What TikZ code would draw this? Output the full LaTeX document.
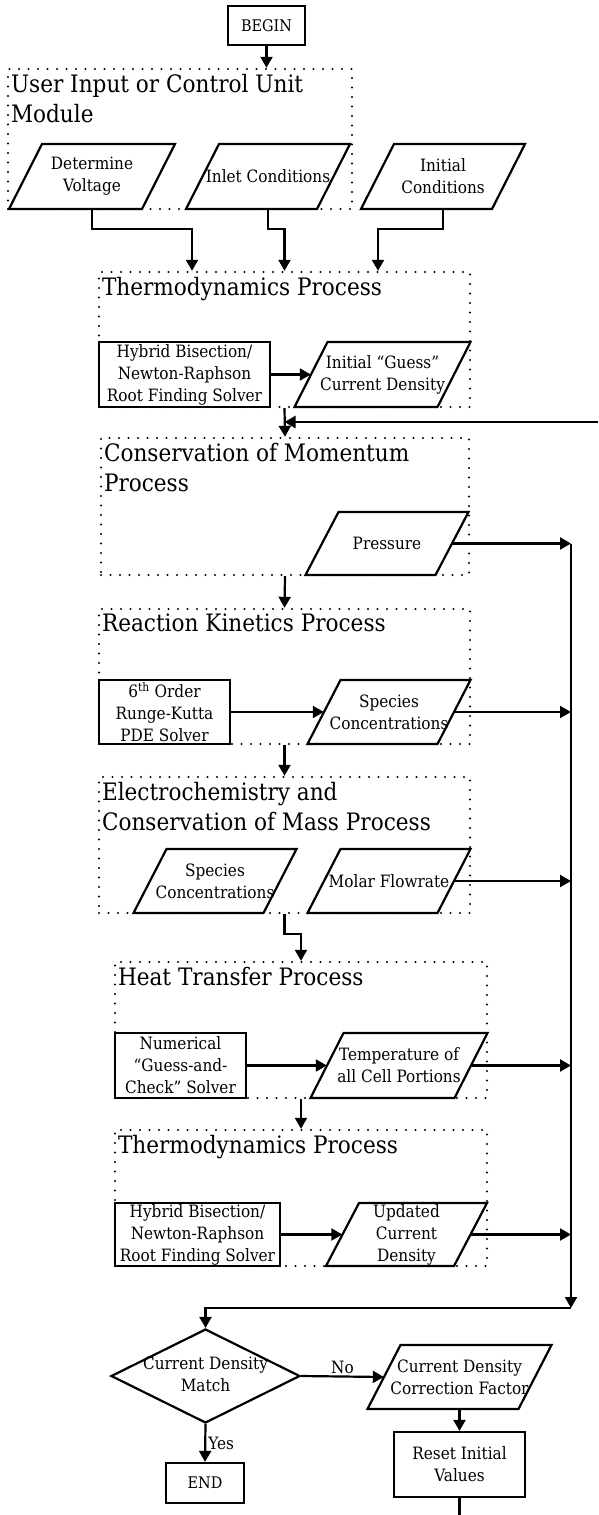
\documentclass[tikz,border=0pt]{standalone}
\usepackage{fontspec}
\setmainfont{DejaVu Serif}[FakeStretch=0.9]
\usetikzlibrary{arrows.meta,shapes.geometric,calc}
\newcommand{\mybodyfont}{\fontsize{17}{22}\selectfont}
\newcommand{\mytitlefont}{\fontsize{24}{30}\selectfont}
\newcommand{\myendfont}{\fontsize{16}{20}\selectfont}
% parallelogram: name, cx, cy, width at mid-height, height, text
\newcommand{\para}[6]{%
  \draw[shapeline, fill=white] (#2-#4/2-16.5,#3+#5/2) -- (#2+#4/2-16.5,#3+#5/2) -- (#2+#4/2+16.5,#3-#5/2) -- (#2-#4/2+16.5,#3-#5/2) -- cycle;
  \node[ptext, minimum width=#4, minimum height=#5] (#1) at (#2,#3) {#6};
}
\begin{document}
\begin{tikzpicture}[x=1pt,y=-1pt,
  shapeline/.style={line width=2.2pt, line join=miter},
  ptext/.style={inner sep=0, align=center, font=\mybodyfont},
  rbox/.style={draw, line width=2.2pt, fill=white, align=center, inner sep=0, font=\mybodyfont},
  dmd/.style={diamond, draw, line width=2.2pt, fill=white, inner sep=0, font=\mybodyfont},
  grp/.style={draw, line width=2.4pt, line cap=round, dash pattern=on 0pt off 9.5pt, inner sep=0},
  ttl/.style={anchor=north west, inner sep=0, align=left, font=\mytitlefont},
  line/.style={line width=2.2pt},
  arr/.style={line width=2.2pt, -{Triangle[length=11pt,width=12pt]}},
  lbl/.style={inner sep=2pt, font=\mybodyfont}
]
\fill[white] (0,0) rectangle (598,1515);
\useasboundingbox (0,0) rectangle (598,1515);

% group frames
\node[grp, minimum width=344, minimum height=140] (user) at (180,139) {};
\node[grp, minimum width=371, minimum height=135] (thermoA) at (284.5,339.5) {};
\node[grp, minimum width=368, minimum height=137] (mom) at (285,506.5) {};
\node[grp, minimum width=371, minimum height=135] (react) at (284.5,676.5) {};
\node[grp, minimum width=371, minimum height=136] (electro) at (284.5,845) {};
\node[grp, minimum width=372, minimum height=136] (heat) at (301,1030) {};
\node[grp, minimum width=372, minimum height=136] (thermoB) at (301,1198) {};

% titles
\node[ttl] (tuser) at ([shift={(4,6)}]user.north west) {User Input or Control Unit\\Module};
\node[ttl] (tthermoA) at ([shift={(4,6)}]thermoA.north west) {Thermodynamics Process};
\node[ttl] (tmom) at ([shift={(4,6)}]mom.north west) {Conservation of Momentum\\Process};
\node[ttl] (treact) at ([shift={(4,6)}]react.north west) {Reaction Kinetics Process};
\node[ttl] (telectro) at ([shift={(4,6)}]electro.north west) {Electrochemistry and\\Conservation of Mass Process};
\node[ttl] (theat) at ([shift={(4,6)}]heat.north west) {Heat Transfer Process};
\node[ttl] (tthermoB) at ([shift={(4,6)}]thermoB.north west) {Thermodynamics Process};

% begin
\node[rbox, minimum width=77, minimum height=39, font=\myendfont] (begin) at (266.5,25.5) {BEGIN};
\draw[arr] (begin.south) -- (begin.south |- user.north);

% user inputs
\para{dv}{92}{176.5}{133}{65}{Determine\\Voltage}
\para{inlet}{268}{176.5}{131}{65}{Inlet Conditions}
\para{init}{443}{176.5}{131}{65}{Initial\\Conditions}
\draw[arr] (dv.south) -- ++(0,20) -| ([xshift=-92.5pt]thermoA.north);
\draw[arr] (inlet.south) -- ++(0,20) -| (thermoA.north);
\draw[arr] (init.south) -- ++(0,20) -| ([xshift=93.5pt]thermoA.north);

% thermodynamics A
\node[rbox, minimum width=171, minimum height=65] (hybA) at (184.5,374.5) {Hybrid Bisection/\\Newton-Raphson\\Root Finding Solver};
\para{guess}{382.5}{374.5}{143}{65}{Initial “Guess”\\Current Density}
\draw[arr] (hybA.east) -- (guess.west);
\draw[arr] (thermoA.south) -- (mom.north);
\coordinate (fb) at (598,422);
\draw[arr] (fb) -- (fb -| thermoA.south);

% momentum
\para{press}{387}{543.5}{130}{63}{Pressure}
\coordinate (bustop) at (571,543.5);
\coordinate (busbot) at (571,1308);
\draw[arr] (press.east) -- (press.east -| bustop);
\draw[arr] (bustop) -- (busbot);
\draw[arr] (mom.south) -- (react.north);

% reaction kinetics
\node[rbox, minimum width=131, minimum height=64] (rk) at (164.5,712) {6\textsuperscript{th} Order\\Runge-Kutta\\PDE Solver};
\para{specA}{389}{712}{130}{64}{Species\\Concentrations}
\draw[arr] (rk.east) -- (specA.west);
\draw[arr] (specA.east) -- (specA.east -| bustop);
\draw[arr] (react.south) -- (electro.north);

% electrochemistry
\para{specB}{215}{881}{130}{64}{Species\\Concentrations}
\para{molar}{389}{881}{130}{64}{Molar Flowrate}
\draw[arr] (molar.east) -- (molar.east -| bustop);
\draw[arr] (electro.south) -- ++(0,20) -| (heat.north);

% heat transfer
\node[rbox, minimum width=131, minimum height=65] (num) at (180.5,1065.5) {Numerical\\“Guess-and-\\Check” Solver};
\para{temp}{399}{1065.5}{144}{65}{Temperature of\\all Cell Portions}
\draw[arr] (num.east) -- (temp.west);
\draw[arr] (temp.east) -- (temp.east -| bustop);
\draw[arr] (heat.south) -- (thermoB.north);

% thermodynamics B
\node[rbox, minimum width=165, minimum height=63] (hybB) at (197.5,1234.5) {Hybrid Bisection/\\Newton-Raphson\\Root Finding Solver};
\para{upd}{406.5}{1234.5}{128}{63}{Updated\\Current\\Density}
\draw[arr] (hybB.east) -- (upd.west);
\draw[arr] (upd.east) -- (upd.east -| bustop);

% decision
\node[dmd, minimum width=189, minimum height=94] (dm) at (205.5,1376) {\makebox[0pt]{\begin{tabular}{@{}c@{}}Current Density\\Match\end{tabular}}};
\draw[arr] (busbot) -- (busbot -| dm.north) -- (dm.north);
\para{corr}{459.5}{1377}{151}{64}{Current Density\\Correction Factor}
\draw[arr] (dm.east) -- (corr.west) node[lbl, midway, above] {No};
\node[rbox, minimum width=131, minimum height=65] (reset) at (459.5,1464.5) {Reset Initial\\Values};
\draw[arr] (corr.south) -- (reset.north);
\coordinate (rsout) at (459.5,1515);
\draw[line] (reset.south) -- (rsout);
\node[rbox, minimum width=78, minimum height=40, font=\myendfont] (end) at (205,1483) {END};
\draw[arr] (dm.south) -- (end.north) node[lbl, midway, right] {Yes};
\end{tikzpicture}
\end{document}
